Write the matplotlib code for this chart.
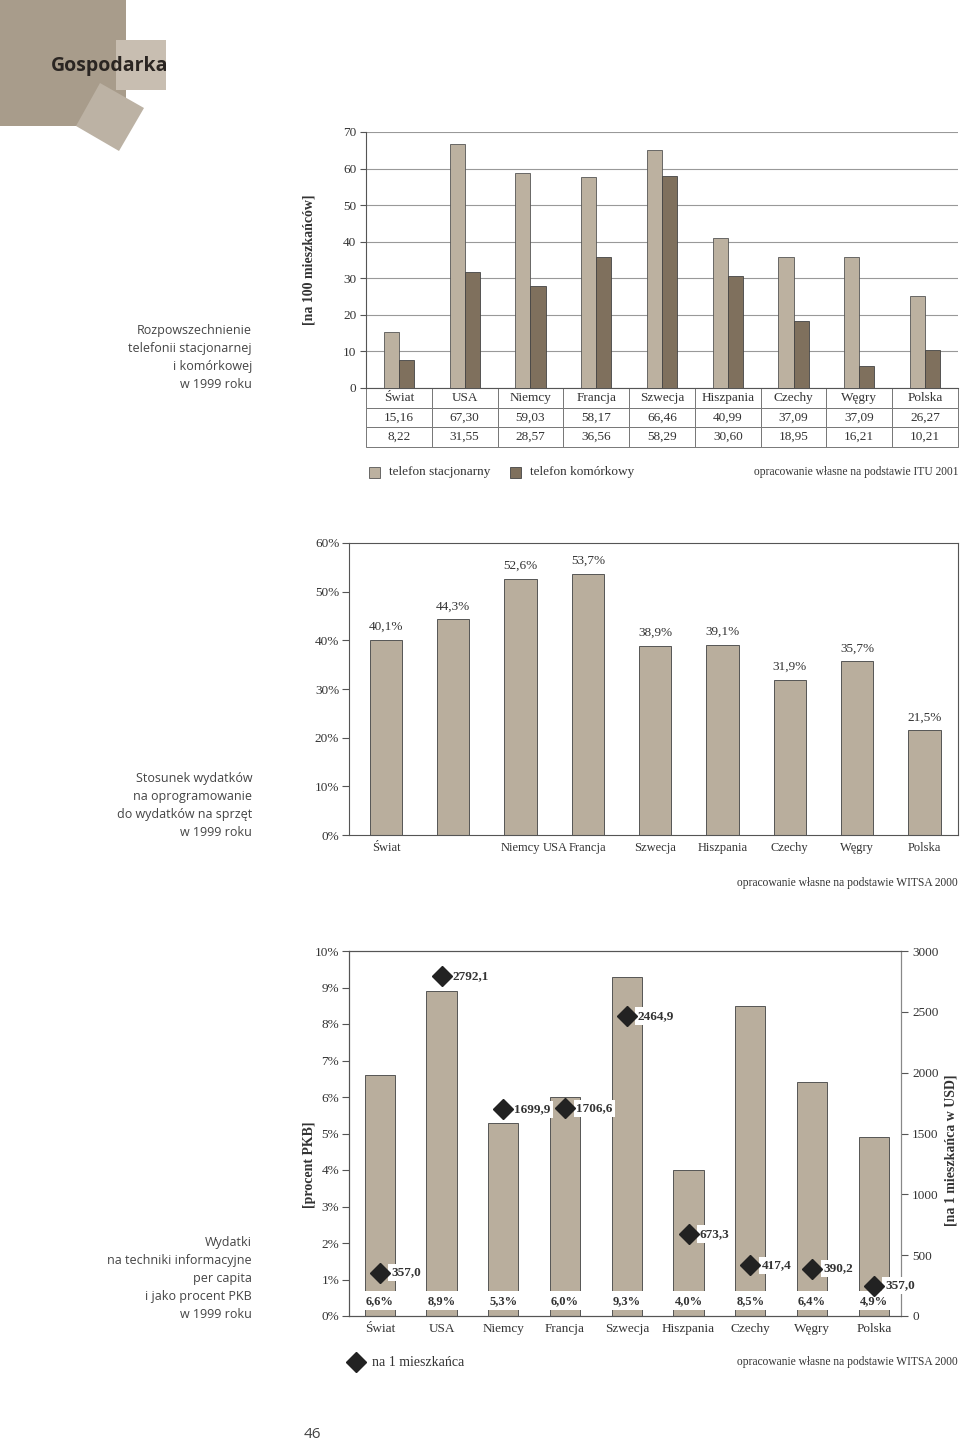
import matplotlib
matplotlib.use("Agg")
import matplotlib.pyplot as plt
from matplotlib.patches import Rectangle, Polygon
from matplotlib.lines import Line2D
import numpy as np

plt.rcParams['font.family'] = ['Liberation Serif', 'DejaVu Serif']
plt.rcParams['text.color'] = '#333333'
plt.rcParams['axes.edgecolor'] = '#555555'
plt.rcParams['xtick.color'] = '#555555'
plt.rcParams['ytick.color'] = '#555555'
plt.rcParams['xtick.labelcolor'] = '#333333'
plt.rcParams['ytick.labelcolor'] = '#333333'

# --- data ---
countries = ['Świat', 'USA', 'Niemcy', 'Francja', 'Szwecja', 'Hiszpania', 'Czechy', 'Węgry', 'Polska']

# chart 1: telephones per 100 inhabitants (table values and bar heights as drawn)
fixed_table = [15.16, 67.30, 59.03, 58.17, 66.46, 40.99, 37.09, 37.09, 26.27]
mobile_table = [8.22, 31.55, 28.57, 36.56, 58.29, 30.60, 18.95, 16.21, 10.21]
fixed_bars = [15.2, 66.6, 58.9, 57.6, 65.1, 40.9, 35.8, 35.8, 25.2]
mobile_bars = [7.6, 31.8, 28.0, 35.8, 58.1, 30.6, 18.3, 6.1, 10.3]

# chart 2: software / hardware spending ratio [%]
soft_ratio = [40.1, 44.3, 52.6, 53.7, 38.9, 39.1, 31.9, 35.7, 21.5]

# chart 3: IT spending as % GDP and per capita [USD]
it_gdp = [6.6, 8.9, 5.3, 6.0, 9.3, 4.0, 8.5, 6.4, 4.9]
per_capita = [357.0, 2792.1, 1699.9, 1706.6, 2464.9, 673.3, 417.4, 390.2, 250.0]
per_capita_labels = ['357,0', '2792,1', '1699,9', '1706,6', '2464,9', '673,3', '417,4', '390,2', '357,0']

LIGHT = '#bcb1a0'
DARK = '#7f705d'
BAR2 = '#b9ae9d'
W, H = 960, 1442

fig = plt.figure(figsize=(W / 100, H / 100), dpi=100)


def box(left, top, right, bottom):
    return [left / W, 1 - bottom / H, (right - left) / W, (bottom - top) / H]


def P(x, y):
    return (x / 100, (H - y) / 100)


def ftext(x, y, s, **kw):
    fig.text(*P(x, y), s, transform=fig.dpi_scale_trans, **kw)


def dec(s):
    return s.replace('.', ',')


# --- header decoration ---
tr = fig.dpi_scale_trans
fig.add_artist(Rectangle(P(0, 126), 1.26, 1.26, transform=tr, color='#a89c8b', lw=0))
fig.add_artist(Polygon([P(100, 83), P(144, 108), P(119, 151), P(76, 126)], closed=True,
                       transform=tr, color='#bcb2a4', lw=0))
fig.add_artist(Rectangle(P(116, 90), 0.50, 0.50, transform=tr, color='#c8beb1', lw=0))
ftext(51, 66, 'Gospodarka', fontsize=14, fontweight='bold', family='Open Sans',
      color='#2a2522', va='center', ha='left')

side_kw = dict(fontsize=9, family='Open Sans', color='#444444', ha='right', va='top', linespacing=1.5)

# --- chart 1 ---
ax1 = fig.add_axes(box(366, 132, 958, 388))
x = np.arange(len(countries))
bw = 0.23
ax1.bar(x - bw / 2, fixed_bars, bw, color=LIGHT, edgecolor='#555555', lw=0.6, zorder=3)
ax1.bar(x + bw / 2, mobile_bars, bw, color=DARK, edgecolor='#444444', lw=0.6, zorder=3)
ax1.set_xlim(-0.5, 8.5)
ax1.set_ylim(0, 70)
ax1.set_yticks(range(0, 71, 10))
ax1.yaxis.grid(True, color='#999999', lw=0.8)
ax1.set_axisbelow(True)
ax1.set_xticks([])
for s in ['top', 'right']:
    ax1.spines[s].set_visible(False)
ax1.tick_params(axis='y', length=4, labelsize=9.5, pad=3)
th = 59 / 256
tbl = ax1.table(cellText=[countries, [dec(f'{v:.2f}') for v in fixed_table],
                          [dec(f'{v:.2f}') for v in mobile_table]],
                cellLoc='center', bbox=[0, -th, 1, th])
tbl.auto_set_font_size(False)
tbl.set_fontsize(9.5)
for cell in tbl.get_celld().values():
    cell.set_edgecolor('#777777')
    cell.set_linewidth(0.7)
    cell.get_text().set_color('#333333')
ftext(309, 260, '[na 100 mieszkańców]', rotation=90, fontsize=10, fontweight='bold',
      ha='center', va='center')
ftext(252, 324, 'Rozpowszechnienie\ntelefonii stacjonarnej\ni komórkowej\nw 1999 roku', **side_kw)
fig.add_artist(Rectangle(P(369, 478), 0.11, 0.11, transform=tr, facecolor=LIGHT,
                         edgecolor='#555555', lw=0.6))
ftext(389, 472, 'telefon stacjonarny', fontsize=9.5, va='center')
fig.add_artist(Rectangle(P(510, 478), 0.11, 0.11, transform=tr, facecolor=DARK,
                         edgecolor='#444444', lw=0.6))
ftext(530, 472, 'telefon komórkowy', fontsize=9.5, va='center')
ftext(958, 472, 'opracowanie własne na podstawie ITU 2001', fontsize=8.3, va='center', ha='right')

# --- chart 2 ---
ax2 = fig.add_axes(box(349, 543, 958, 835))
ax2.bar(x, soft_ratio, 0.48, color=BAR2, edgecolor='#555555', lw=0.7)
for xi, v in zip(x, soft_ratio):
    ax2.annotate(dec(f'{v:.1f}%'), (xi, v), xytext=(0, 5), textcoords='offset points',
                 ha='center', va='bottom', fontsize=9.5)
ax2.set_xlim(-0.55, 8.5)
ax2.set_ylim(0, 60)
ax2.set_yticks(range(0, 61, 10))
ax2.set_yticklabels([f'{v}%' for v in range(0, 61, 10)])
# original layout: the USA label sits between Niemcy and Francja
tick_pos = [0, 2, 2.51] + list(range(3, 9))
tick_lab = [countries[0], countries[2], countries[1]] + countries[3:]
ax2.set_xticks(tick_pos)
ax2.set_xticklabels(tick_lab)
ax2.tick_params(axis='x', length=0, labelsize=9, pad=5)
ax2.tick_params(axis='y', length=5, labelsize=9.5, pad=2)
ftext(252, 772, 'Stosunek wydatków\nna oprogramowanie\ndo wydatków na sprzęt\nw 1999 roku', **side_kw)
ftext(958, 883, 'opracowanie własne na podstawie WITSA 2000', fontsize=8.3, va='center', ha='right')

# --- chart 3 ---
ax3 = fig.add_axes(box(349, 951, 901, 1316))
ax3.bar(x, it_gdp, 0.49, color=BAR2, edgecolor='#555555', lw=0.7)
for xi, v in zip(x, it_gdp):
    ax3.text(xi, 0.42, dec(f'{v:.1f}%'), ha='center', va='center', fontsize=9,
             fontweight='bold', zorder=5,
             bbox=dict(boxstyle='square,pad=0.3', fc='white', ec='none'))
ax3.set_xlim(-0.5, 8.44)
ax3.set_ylim(0, 10)
ax3.set_yticks(range(0, 11))
ax3.set_yticklabels([f'{v}%' for v in range(0, 11)])
ax3.set_xticks(x)
ax3.set_xticklabels(countries)
ax3.tick_params(axis='x', length=0, labelsize=9.5, pad=5)
ax3.tick_params(axis='y', length=5, labelsize=9.5, pad=2)
ax3.spines['right'].set_color('#888888')
ax3b = ax3.twinx()
ax3b.set_ylim(0, 3000)
ax3b.set_yticks(range(0, 3001, 500))
ax3b.tick_params(axis='y', length=5, labelsize=9.5, pad=3)
ax3b.spines['right'].set_color('#888888')
ax3b.plot(x, per_capita, 'D', color='#222222', ms=10, zorder=4)
for xi, v, lab in zip(x, per_capita, per_capita_labels):
    ax3b.annotate(lab, (xi, v), xytext=(8, 0), textcoords='offset points', ha='left',
                  va='center', fontsize=9.5, fontweight='bold',
                  bbox=dict(boxstyle='square,pad=0.2', fc='white', ec='none'))
ftext(309, 1165, '[procent PKB]', rotation=90, fontsize=10, fontweight='bold',
      ha='center', va='center')
ftext(951, 1150, '[na 1 mieszkańca w USD]', rotation=90, fontsize=10, fontweight='bold',
      ha='center', va='center')
ftext(252, 1236, 'Wydatki\nna techniki informacyjne\nper capita\ni jako procent PKB\nw 1999 roku', **side_kw)
fig.add_artist(Line2D([3.56], [(H - 1362) / 100], transform=tr, marker='D', color='#222222',
                      ms=10, ls='none'))
ftext(372, 1363, 'na 1 mieszkańca', fontsize=10, va='center')
ftext(958, 1362, 'opracowanie własne na podstawie WITSA 2000', fontsize=8.3, va='center', ha='right')

ftext(312, 1435, '46', fontsize=11, family='Open Sans', color='#444444', ha='center', va='center')

fig.savefig('out.png', dpi=100)
